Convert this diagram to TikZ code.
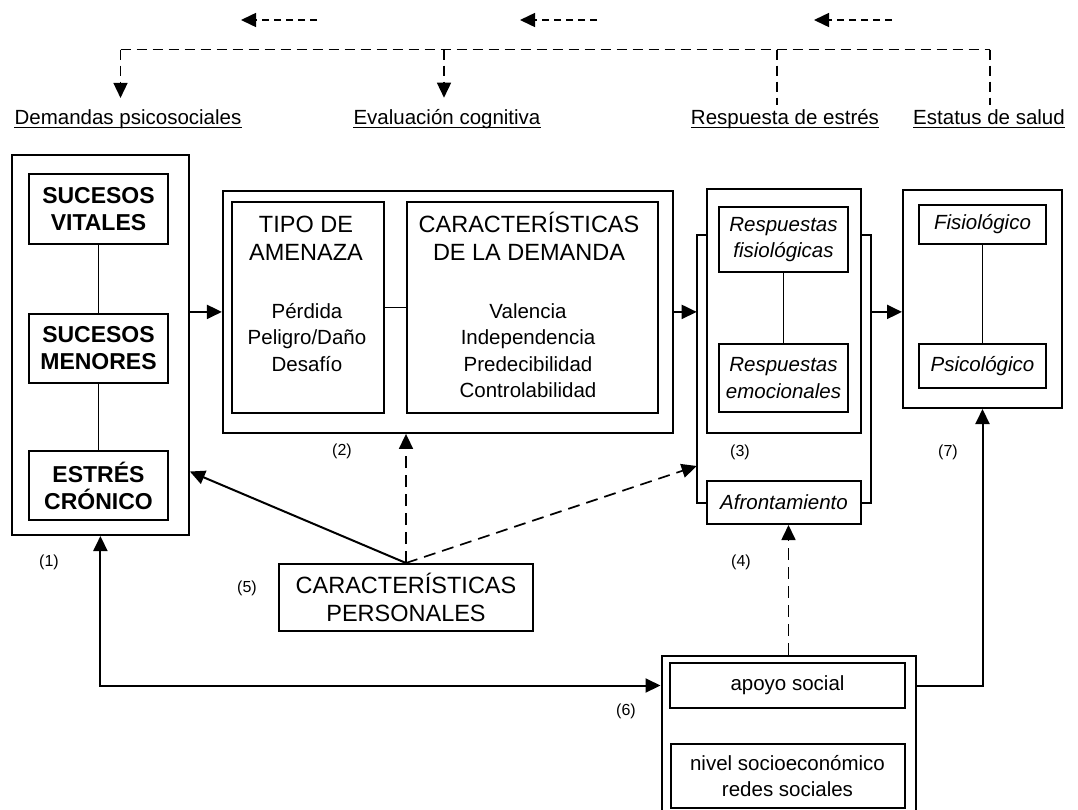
\documentclass[tikz,border=0pt]{standalone}
\usepackage{fontspec}
\setmainfont{Liberation Sans}
\usetikzlibrary{arrows.meta}

\begin{document}
\begin{tikzpicture}[x=1pt,y=-1pt,>={Triangle[length=15pt,width=14pt]}]
  \tikzstyle{every node}=[inner sep=0pt,font=\fontsize{20.5}{26.5}\selectfont]
  \tikzstyle{box}=[draw,line width=2pt,align=center]
  \tikzstyle{head}=[font=\fontsize{23.5}{28}\selectfont,align=center]
  \tikzstyle{item}=[font=\fontsize{20.5}{26.5}\selectfont,align=center]
  \tikzstyle{bold}=[font=\fontsize{23}{27}\selectfont\bfseries,align=center]
  \tikzstyle{ital}=[font=\fontsize{20.5}{26.5}\selectfont\itshape,align=center]
  \tikzstyle{toplab}=[font=\fontsize{20.5}{24}\selectfont,inner xsep=0pt,inner ysep=11pt,anchor=base]
  \tikzstyle{num}=[font=\fontsize{16}{18}\selectfont]
  \tikzstyle{conn}=[line width=1.8pt]
  \tikzstyle{arr}=[->,line width=2pt]
  \tikzstyle{darr}=[->,line width=1.7pt,dash pattern=on 12pt off 7pt]
  \tikzstyle{treedash}=[line width=1.5pt,dash pattern=on 10pt off 6pt]
  \tikzstyle{shortdash}=[->,line width=1.5pt,dash pattern=on 7pt off 5pt]

  \useasboundingbox (0,0) rectangle (1078,809);

  \node [toplab] (lbdem) at (128,124) {Demandas psicosociales};
  \node [toplab] (lbeva) at (447,124) {Evaluación cognitiva};
  \node [toplab] (lbres) at (785,124) {Respuesta de estrés};
  \node [toplab] (lbsal) at (989,124) {Estatus de salud};
  \foreach \lab in {lbdem,lbeva,lbres,lbsal}
    \draw [line width=1.3pt] ([yshift=-3.5pt]\lab.base west) -- ([yshift=-3.5pt]\lab.base east);

  \coordinate (t1) at (120.5,49.5);
  \coordinate (t2) at (444,49.5);
  \coordinate (t3) at (777,49.5);
  \coordinate (t4) at (990,49.5);
  \draw [treedash] (t1) -- (t4);
  \draw [treedash,->] (t1) -- (t1 |- lbdem.north);
  \draw [treedash,->] (t2) -- (t2 |- lbeva.north);
  \draw [treedash] (t3) -- ([yshift=-7pt]t3 |- lbres.north);
  \draw [treedash] (t4) -- ([yshift=-7pt]t4 |- lbsal.north);

  \coordinate (v1a) at (317,20); \coordinate (v1b) at (241,20);
  \coordinate (v2a) at (597,20); \coordinate (v2b) at (520,20);
  \coordinate (v3a) at (892,20); \coordinate (v3b) at (814,20);
  \draw [shortdash] (v1a) -- (v1b);
  \draw [shortdash] (v2a) -- (v2b);
  \draw [shortdash] (v3a) -- (v3b);

  \node [box,minimum width=177,minimum height=380] (fuentes) at (100.4,345) {};
  \node [box,bold,minimum width=139,minimum height=70] (vitales) at (98.5,209) {SUCESOS\\VITALES};
  \node [box,bold,minimum width=139,minimum height=69] (menores) at (98.5,348.5) {SUCESOS\\MENORES};
  \node [box,bold,minimum width=139,minimum height=69] (cronico) at (98.5,485.5) {ESTRÉS\\CRÓNICO};
  \draw [conn] (vitales) -- (menores);
  \draw [conn] (menores) -- (cronico);
  \node [num] (n1) at (49,562) {(1)};

  \node [box,minimum width=450,minimum height=242] (evaluacion) at (447.9,311.9) {};
  \node [box,minimum width=152,minimum height=211] (amenaza) at (308,307.5) {};
  \node [box,minimum width=251,minimum height=211] (demanda) at (532.5,307.5) {};
  \node [head,anchor=base] (amenazaT) at (306,260) {TIPO DE\\AMENAZA};
  \node [item,anchor=base] (amenazaL) at (307,371) {Pérdida\\Peligro/Daño\\Desafío};
  \node [head,anchor=base] (demandaT) at (529,260) {CARACTERÍSTICAS\\DE LA DEMANDA};
  \node [item,anchor=base] (demandaL) at (528,397.5) {Valencia\\Independencia\\Predecibilidad\\Controlabilidad};
  \draw [conn] (amenaza) -- (demanda);
  \node [num] (n2) at (342,451) {(2)};

  \node [box,minimum width=154,minimum height=244] (respuesta) at (784,311) {};
  \node [box,ital,minimum width=129,minimum height=65] (fisresp) at (783.5,239.5) {Respuestas\\fisiológicas};
  \node [box,ital,minimum width=129,minimum height=68] (emoresp) at (783.5,378) {Respuestas\\emocionales};
  \draw [conn] (fisresp) -- (emoresp);
  \node [box,ital,minimum width=154,minimum height=43] (afront) at (784,502.5) {Afrontamiento};
  \coordinate (corchIa) at (696.7,235); \coordinate (corchIb) at (696.7,503);
  \coordinate (corchDa) at (871,235); \coordinate (corchDb) at (871,503);
  \draw [conn] (respuesta.west |- corchIa) -- (corchIa) -- (corchIb) -- (afront.west |- corchIb);
  \draw [conn] (respuesta.east |- corchDa) -- (corchDa) -- (corchDb) -- (afront.east |- corchDb);
  \node [num] (n3) at (740,452) {(3)};
  \node [num] (n4) at (741,562) {(4)};

  \node [box,minimum width=159,minimum height=218] (salud) at (982.5,299) {};
  \node [box,ital,minimum width=127,minimum height=39] (fisio) at (982.5,224.5) {Fisiológico};
  \node [box,ital,minimum width=127,minimum height=44] (psico) at (982.5,366) {Psicológico};
  \draw [conn] (fisio) -- (psico);
  \node [num] (n7) at (948,452) {(7)};

  \node [box,head,minimum width=254,minimum height=67] (personal) at (406,597.5) {CARACTERÍSTICAS\\PERSONALES};
  \node [num] (n5) at (247,588) {(5)};

  \node [box,minimum width=254,minimum height=175] (recursos) at (788.5,743) {};
  \node [box,item,minimum width=235,minimum height=45] (apoyo) at (787.5,685.5) {apoyo social};
  \node [box,item,minimum width=234,minimum height=64] (nivel) at (787.5,776) {nivel socioeconómico\\redes sociales};
  \node [num] (n6) at (626,711) {(6)};

  \draw [arr] (evaluacion.west -| fuentes.east) -- (evaluacion.west);
  \draw [arr] (evaluacion.east) -- (evaluacion.east -| corchIa);
  \draw [arr] (corchDa |- evaluacion.east) -- (salud.west |- evaluacion.east);
  \draw [arr] (personal.north) -- ([yshift=14pt]fuentes.east |- cronico.center);
  \draw [darr] (personal.north) -- (personal.north |- evaluacion.south);
  \draw [darr] (personal.north) -- ([yshift=37pt]corchIb);
  \draw [arr,<->] (fuentes.south) |- (recursos.west |- apoyo.west);
  \draw [arr] (apoyo.east -| recursos.east) -| (salud.south);
  \draw [darr] (recursos.north) -- (recursos.north |- afront.south);
\end{tikzpicture}
\end{document}
